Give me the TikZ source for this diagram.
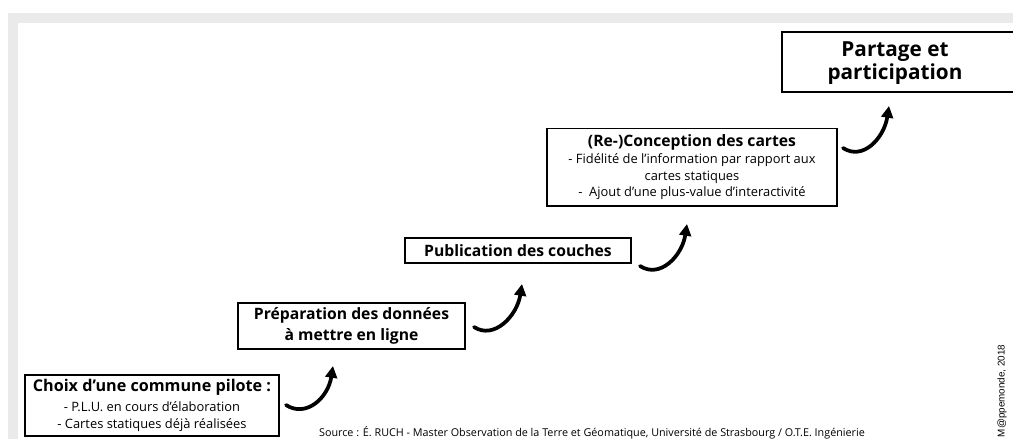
\documentclass[tikz,border=0pt]{standalone}
\usepackage{fontspec}
\setmainfont{Open Sans}
\newfontfamily\mapfont{Liberation Sans}
\usetikzlibrary{arrows.meta}
\definecolor{framegray}{HTML}{EAEAEA}
\newcommand{\hdfont}{\fontsize{13.4}{15}\selectfont\bfseries}
\newcommand{\bdfont}{\fontsize{11}{13}\selectfont}
\begin{document}
\begin{tikzpicture}[x=0.03cm, y=-0.03cm,
  stepbox/.style={draw=black, line width=1.7pt, fill=white, inner sep=0pt, align=center},
  bigarrow/.style={line width=3.2pt, line cap=round, -{Triangle[length=10pt,width=10pt]}},
  ]
  \clip (0,0) rectangle (1013,439);
  \fill[white] (0,0) rectangle (1013,439);
  \fill[framegray] (8,13) rectangle (1013,439);
  \fill[white] (18,23) rectangle (1013,439);

  % step 1
  \node[stepbox, minimum width=7.62cm, minimum height=1.83cm] (s1) at (152,405.5)
    {{\fontsize{13.8}{16}\selectfont\bfseries Choix d’une commune pilote :}\\[5pt]
     {\bdfont - P.L.U. en cours d’élaboration}\\[2.3pt]
     {\bdfont - Cartes statiques déjà réalisées}};
  % step 2
  \node[stepbox, minimum width=6.81cm, minimum height=1.38cm] (s2) at (351.5,326)
    {{\hdfont Préparation des données}\\[3.5pt]{\hdfont à mettre en ligne}};
  % step 3
  \node[stepbox, minimum width=6.78cm, minimum height=0.75cm] (s3) at (518,250.5)
    {\hdfont Publication des couches};
  % step 4
  \node[stepbox, minimum width=8.7cm, minimum height=2.31cm] (s4) at (692,167)
    {{\hdfont (Re-)Conception des cartes}\\[2.5pt]
     {\bdfont - Fidélité de l’information par rapport aux}\\[2.3pt]
     {\bdfont cartes statiques}\\[1.8pt]
     {\bdfont -\ \ Ajout d’une plus-value d’interactivité}};
  % step 5
  \draw[line width=1.7pt, fill=white] (782,32) rectangle (1030,92);
  \node[align=center, inner sep=0pt] (s5) at (895,63)
    {{\fontsize{17.7}{20}\selectfont\bfseries Partage et}\\[1.5pt]
     {\fontsize{17.7}{20}\selectfont\bfseries participation}};

  % arrows
  \coordinate (a1s) at (286,405); \coordinate (a1e) at (333,366);
  \coordinate (a2s) at (474,327); \coordinate (a2e) at (522,284);
  \coordinate (a3s) at (640,266); \coordinate (a3e) at (687,224);
  \coordinate (a4s) at (843,148); \coordinate (a4e) at (889,106);
  \draw[bigarrow] (a1s) .. controls (306,418) and (328,398) .. (a1e);
  \draw[bigarrow] (a2s) .. controls (494,340) and (517,316) .. (a2e);
  \draw[bigarrow] (a3s) .. controls (660,279) and (682,256) .. (a3e);
  \draw[bigarrow] (a4s) .. controls (863,161) and (884,138) .. (a4e);

  % source and credit
  \node[inner sep=0pt, font=\fontsize{9.2}{11}\selectfont] (src) at (592,433)
    {Source : É. RUCH - Master Observation de la Terre et Géomatique, Université de Strasbourg / O.T.E. Ingénierie};
  \node[inner sep=0pt, rotate=90, font=\mapfont\fontsize{8.4}{10}\selectfont] (credit) at (1002,391)
    {M@ppemonde, 2018};
\end{tikzpicture}
\end{document}
